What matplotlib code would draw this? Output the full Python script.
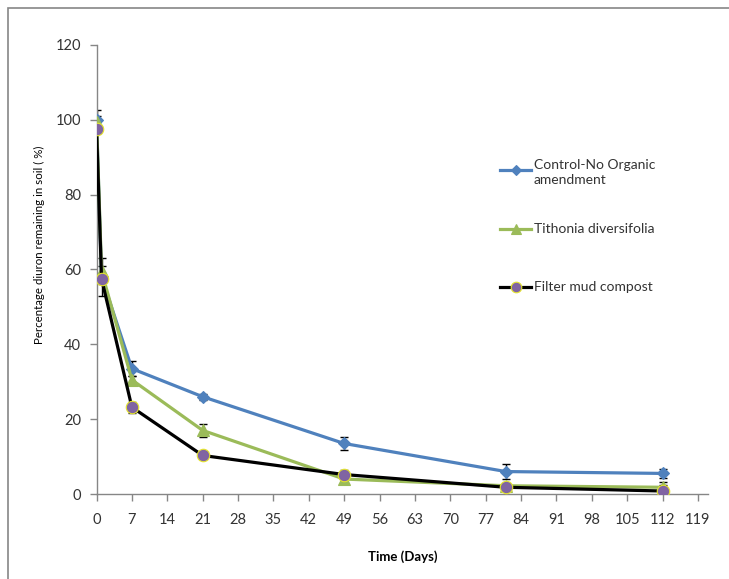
import numpy as np
import matplotlib
matplotlib.use('Agg')
import matplotlib.pyplot as plt
from matplotlib.lines import Line2D
from matplotlib.patches import Rectangle

plt.rcParams['font.family'] = ['Lato', 'DejaVu Sans']

# Data
days = [0, 1, 7, 21, 49, 81, 112]
control = [100, 58, 33.5, 26, 13.5, 6, 5.5]
control_err = [2.7, 5, 2, 0.8, 1.7, 2, 1.2]
tithonia = [99.5, 59.5, 30.5, 17, 4, 2.2, 1.8]
tithonia_err = [1.5, 1.5, 1, 1.7, 1, 0.5, 0.5]
filtermud = [97.5, 57.5, 23.2, 10.3, 5.2, 1.8, 0.8]
filtermud_err = [1, 1.5, 1.5, 0.8, 1.2, 0.5, 2.5]

labels = ['Control-No Organic\namendment', 'Tithonia diversifolia', 'Filter mud compost']
xticks = np.arange(0, 120, 7)
yticks = np.arange(0, 121, 20)

blue = '#4F81BD'
green = '#9BBB59'
purple = '#8064A2'
grey = '#868686'

fig = plt.figure(figsize=(7.29, 5.79), dpi=100)
ax = fig.add_axes([0.1324, 0.1468, 0.8388, 0.7755])

# outer chart border (only left/top visible in the crop)
fig.patches.append(Rectangle((8/729, -0.1), 1.2, 1 - 8/579 + 0.1,
                             transform=fig.transFigure, fill=False,
                             edgecolor=grey, linewidth=1.2))

series = [
    (control, control_err, blue, 'D', blue, 6.5),
    (tithonia, tithonia_err, green, '^', green, 8),
    (filtermud, filtermud_err, 'black', 'o', purple, 9),
]

for vals, errs, col, mk, mfc, ms in series:
    ax.errorbar(days, vals, yerr=errs, fmt='none', ecolor='black',
                elinewidth=1, capsize=3, capthick=1, zorder=2)
for vals, errs, col, mk, mfc, ms in series:
    mec = '#E6E62E' if mk == 'o' else mfc
    ax.plot(days, vals, color=col, linewidth=2.3, marker=mk, markersize=ms,
            markerfacecolor=mfc, markeredgecolor=mec, markeredgewidth=0.8,
            zorder=3)

ax.set_xlim(0, 121)
ax.set_ylim(0, 120)
ax.set_xticks(xticks)
ax.set_yticks(yticks)
ax.tick_params(axis='both', direction='out', length=5, width=1, color=grey,
               labelsize=10.5, labelcolor='#333333')
ax.tick_params(axis='y', pad=6)
ax.tick_params(axis='x', pad=9)
for s in ['top', 'right']:
    ax.spines[s].set_visible(False)
for s in ['left', 'bottom']:
    ax.spines[s].set_color(grey)
    ax.spines[s].set_linewidth(1)

ax.set_xlabel('Time (Days)', fontsize=9.5, fontweight='bold')
ax.xaxis.set_label_coords(0.5, -0.126)
ax.set_ylabel('Percentage diuron remaining in soil ( %)', fontsize=8.3)
ax.yaxis.set_label_coords(-0.085, 0.555)

# legend drawn by hand, Excel style
leg_y = [0.7216, 0.590, 0.461]
for (vals, errs, col, mk, mfc, ms), lab, y in zip(series, labels, leg_y):
    mec = '#E6E62E' if mk == 'o' else mfc
    ax.add_line(Line2D([0.660, 0.711], [y, y], transform=ax.transAxes,
                       color=col, linewidth=2.3, clip_on=False))
    ax.add_line(Line2D([0.6855], [y], transform=ax.transAxes, marker=mk,
                       markersize=ms * 0.85, markerfacecolor=mfc,
                       markeredgecolor=mec, markeredgewidth=0.8,
                       linestyle='none', clip_on=False))
    if '\n' in lab:
        ax.text(0.7155, y + 0.025, lab, transform=ax.transAxes, fontsize=10,
                color='#333333', va='top', linespacing=1.3)
    else:
        ax.text(0.7155, y, lab, transform=ax.transAxes, fontsize=10,
                color='#333333', va='center')

fig.savefig('out.png', dpi=100)
